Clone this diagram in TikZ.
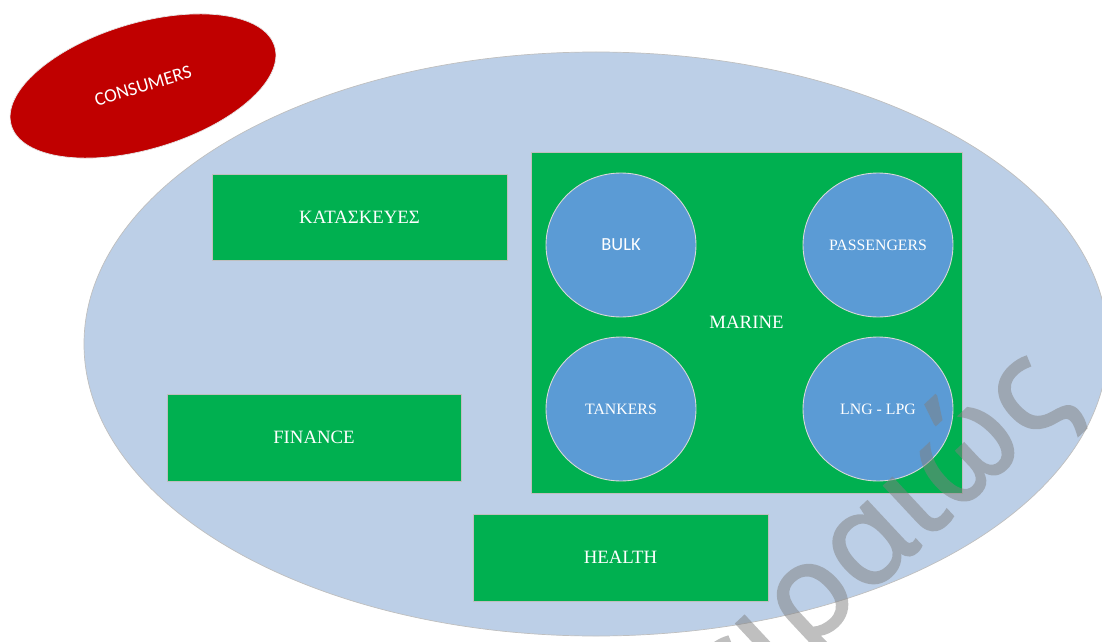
\documentclass[tikz,border=0pt]{standalone}
\usepackage{fontspec}
\setmainfont{Liberation Serif}
\newfontfamily\calibri{Carlito}
\newfontfamily\stampfont[FakeBold=1.5]{Noto Sans}
\usetikzlibrary{shapes.geometric}

\definecolor{sectorblue}{RGB}{188,207,231}
\definecolor{boxgreen}{RGB}{0,176,80}
\definecolor{shipblue}{RGB}{91,155,213}
\definecolor{consred}{RGB}{192,0,0}

\tikzset{
  sector/.style={rectangle, fill=boxgreen, draw=black!25, line width=0.3pt,
    text=white, inner sep=0pt, font=\fontsize{10.7}{12}\selectfont},
  ship/.style={ellipse, fill=shipblue, draw=black!15, line width=0.5pt,
    text=white, inner sep=0pt, minimum width=3cm, minimum height=2.88cm,
    font=\fontsize{9}{11}\selectfont},
}

\begin{document}
\begin{tikzpicture}[x=0.02cm, y=-0.02cm]
  \useasboundingbox (0,0) rectangle (1102,642);
  \clip (0,0) rectangle (1102,642);
  % the market as a whole
  \draw[fill=sectorblue, draw=black!25, line width=0.4pt] (596,344) ellipse [x radius=512, y radius=292];
  \node[ellipse, fill=consred, draw=black!10, rotate=16.7, minimum width=5.5cm, minimum height=2.52cm,
    text=white, font=\calibri\fontsize{10.8}{12}\selectfont] (cons) at (143,86) {CONSUMERS};
  % sectors
  \node[sector, minimum width=5.9cm, minimum height=1.72cm] (kat) at (359.5,217) {ΚΑΤΑΣΚΕΥΕΣ};
  \node[sector, minimum width=5.88cm, minimum height=1.74cm] (fin) at (314,437.5) {FINANCE};
  \node[sector, minimum width=5.9cm, minimum height=1.74cm] (health) at (620.5,557.5) {HEALTH};
  \node[sector, minimum width=8.62cm, minimum height=6.82cm] (marine) at (746.5,322.5) {MARINE};
  % ship types inside marine
  \node[ship, font=\calibri\fontsize{10.5}{12}\selectfont] (bulk) at (621,245) {BULK};
  \node[ship] (pass) at (878,245) {PASSENGERS};
  \node[ship] (tank) at (621,409) {TANKERS};
  \node[ship] (lng) at (878,409) {LNG - LPG};
  % stamp across the corner
  \begin{scope}[transparency group, opacity=0.5]
    \node[text=gray, rotate=43, anchor=base east, inner sep=0pt,
      font=\stampfont\fontsize{74}{74}\selectfont] (stamp) at (1076,402) {Πειραιώς};
  \end{scope}
\end{tikzpicture}
\end{document}
